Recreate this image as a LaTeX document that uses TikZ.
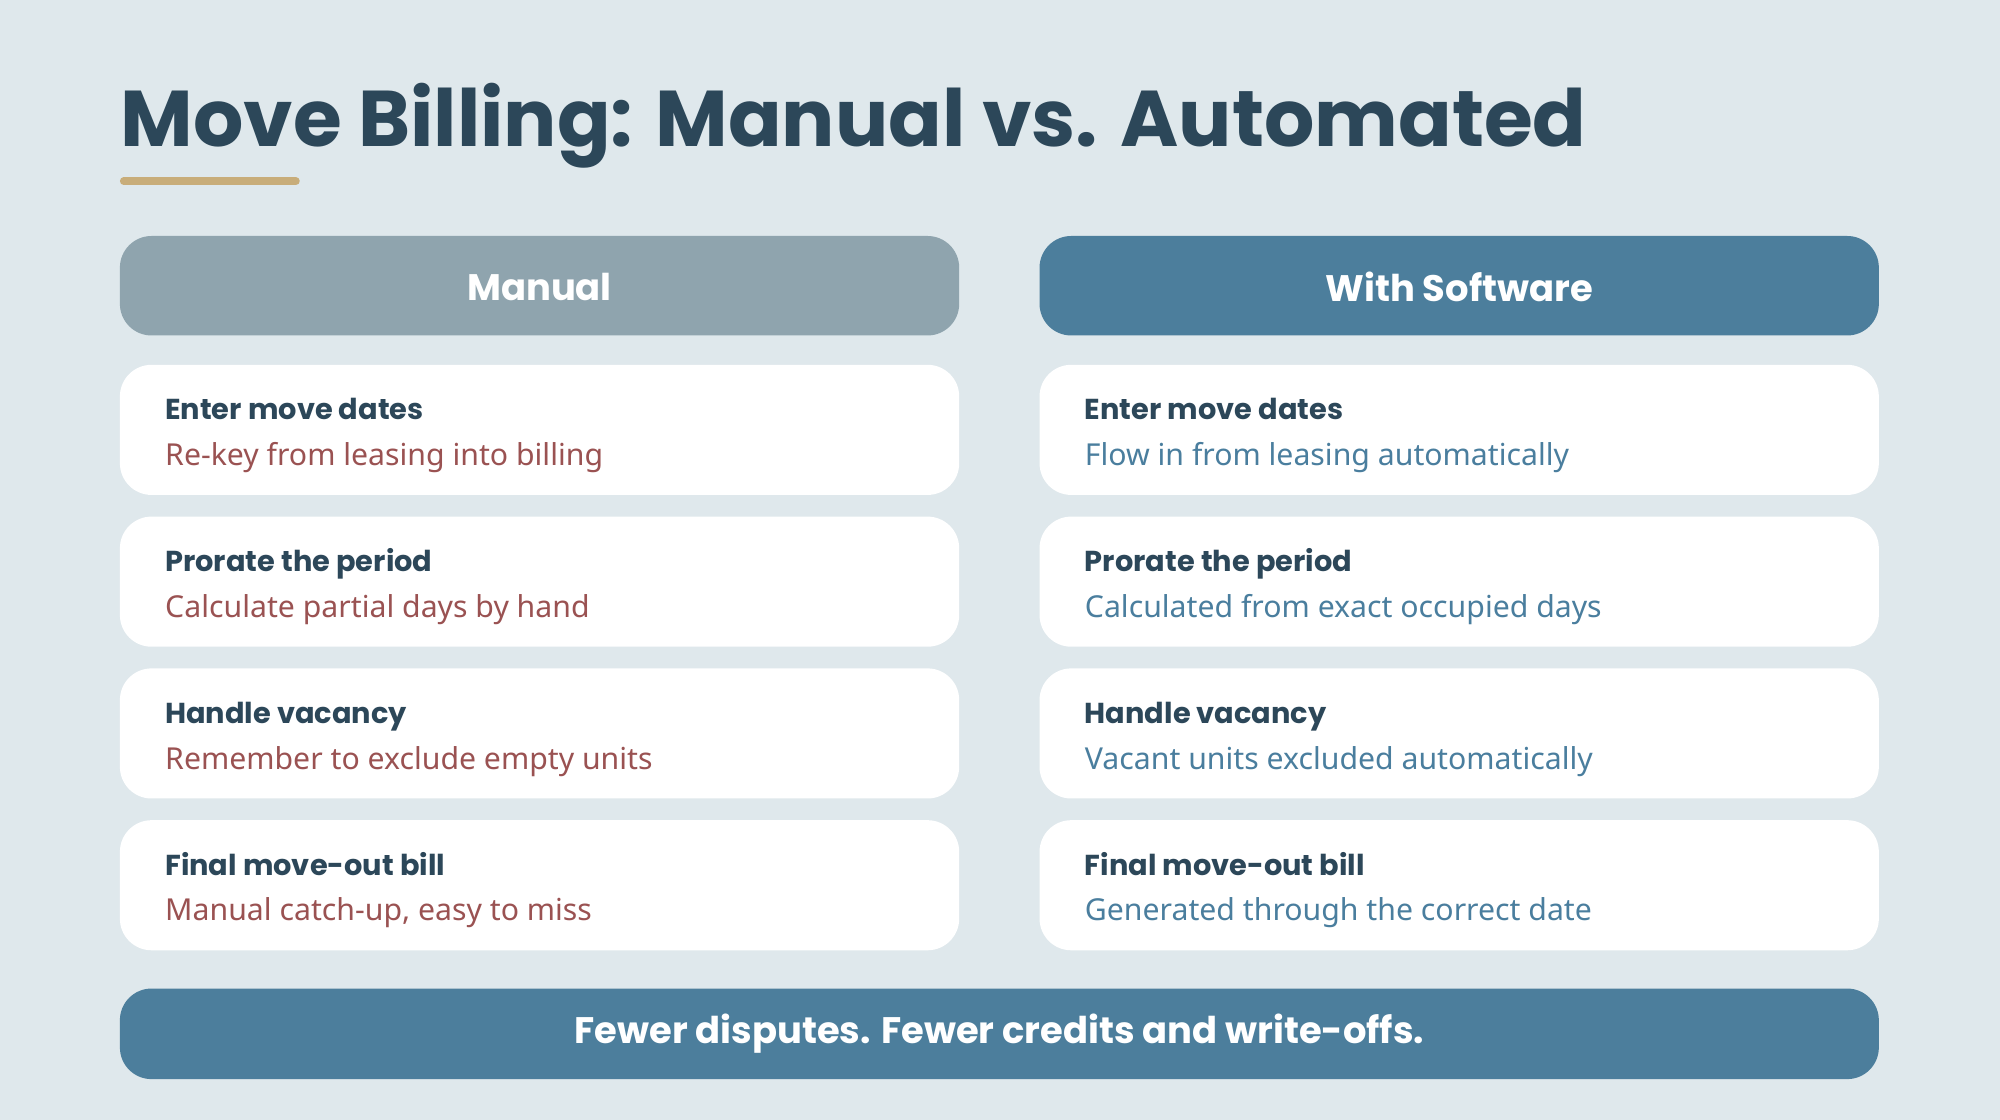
\documentclass[tikz,border=0pt]{standalone}
\usepackage{fontspec}
\setmainfont{Noto Sans}
\newfontfamily\headfont{Poppins}
\usetikzlibrary{positioning}
\definecolor{bgcol}{HTML}{DFE8EC}
\definecolor{navy}{HTML}{2C4759}
\definecolor{gold}{HTML}{C8AD7A}
\definecolor{greyhead}{HTML}{8FA4AE}
\definecolor{bluehead}{HTML}{4C7E9C}
\definecolor{redtxt}{HTML}{9A5252}
\definecolor{bluetxt}{HTML}{4A7E9E}
\tikzset{
  head/.style={fill=#1, rounded corners=9pt, draw=none},
  card/.style={fill=white, rounded corners=9pt, draw=none},
  headtxt/.style={text=white, font=\headfont\bfseries\fontsize{10.5}{12}\selectfont},
  ttl/.style={anchor=base west, text=navy, font=\headfont\bfseries\fontsize{8.2}{10}\selectfont, inner sep=0},
  sub/.style={anchor=base west, text=#1, font=\fontsize{8.6}{10}\selectfont, inner sep=0}
}
\begin{document}
\begin{tikzpicture}[x=0.0127551cm, y=-0.0127551cm]
  % achtergrond
  \fill[bgcol] (0,0) rectangle (1568,878);
  \useasboundingbox (0,0) rectangle (1568,878);

  % titel
  \node[anchor=base west, inner sep=0, text=navy, font=\headfont\bfseries\fontsize{22.5}{26}\selectfont] (title) at (94,115) {Move Billing: Manual vs. Automated};
  \draw[gold, line width=6*0.0127551cm, line cap=round] (97,142) -- (232,142);

  % kolomkoppen
  \draw[head=greyhead] (94,185) rectangle (752,263);
  \node[headtxt] (manual) at (423,225) {Manual};
  \draw[head=bluehead] (815,185) rectangle (1473,263);
  \node[headtxt] (software) at (1144,225) {With Software};

  % kaarten
  \foreach \y/\t/\l/\r in {
    286/Enter move dates/Re-key from leasing into billing/Flow in from leasing automatically,
    405/Prorate the period/Calculate partial days by hand/Calculated from exact occupied days,
    524/Handle vacancy/Remember to exclude empty units/Vacant units excluded automatically,
    643/Final move-out bill/{Manual catch-up, easy to miss}/Generated through the correct date}{
    \draw[card] (94,\y) rectangle (752,\y+102);
    \draw[card] (815,\y) rectangle (1473,\y+102);
    \node[ttl] at (129,\y+43) {\t};
    \node[sub=redtxt] at (129,\y+79) {\l};
    \node[ttl] at (850,\y+43) {\t};
    \node[sub=bluetxt] at (850,\y+79) {\r};
  }

  % conclusie
  \draw[head=bluehead] (94,775) rectangle (1473,846);
  \node[headtxt] (footer) at (783.5,810) {Fewer disputes. Fewer credits and write-offs.};
\end{tikzpicture}
\end{document}
